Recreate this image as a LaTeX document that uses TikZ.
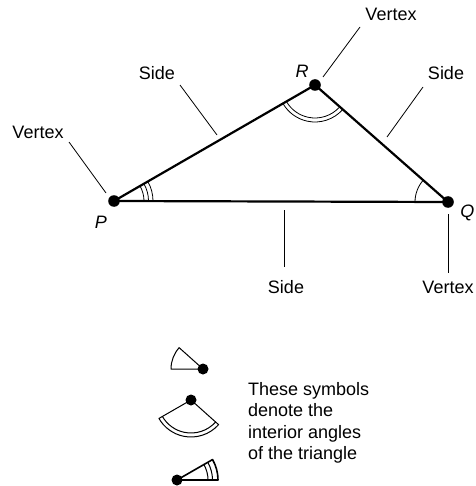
\documentclass[tikz,border=0pt]{standalone}
\usepackage{fontspec}
\setmainfont{Liberation Sans}
\usepackage{tikz}
\usetikzlibrary{calc, positioning}

\tikzset{
    lbl/.style={anchor=base, inner sep=0pt, font=\fontsize{18}{21.5}\selectfont},
    leader/.style={line width=0.8pt},
    sideline/.style={line width=2.2pt, line cap=round},
    anglemark/.style={line width=0.8pt},
    legendmark/.style={line width=1pt, line join=round}
}

\begin{document}
\begin{tikzpicture}[x=1pt, y=-1pt]

    \useasboundingbox (0,0) rectangle (475,486);

    % =================================================================
    % 1. VERTICES OF THE TRIANGLE
    % =================================================================
    \coordinate (P) at (114,201);
    \coordinate (R) at (315,85);
    \coordinate (Q) at (448,202);

    % End points of the leader lines
    \coordinate (vtxRa) at (360,27);
    \coordinate (vtxRb) at (323,77);
    \coordinate (vtxPa) at (69,142);
    \coordinate (vtxPb) at (106,193);
    \coordinate (vtxQa) at (448,214);
    \coordinate (vtxQb) at (448,273);
    \coordinate (sidePRa) at (180,85);
    \coordinate (sidePRb) at (217,135);
    \coordinate (sideRQa) at (423,87);
    \coordinate (sideRQb) at (387,137);
    \coordinate (sidePQa) at (284,210);
    \coordinate (sidePQb) at (284,267);

    % =================================================================
    % 2. SIDES, ANGLE MARKS AND DOTS
    % =================================================================
    \draw[sideline] (P) -- (R) -- (Q) -- cycle;

    % Angle at P (three arcs)
    \foreach \r in {30,34.5,39}
        \draw[anglemark] ($(P)+(-29.9:\r)$) arc (-29.9:0:\r);
    % Angle at R (two arcs)
    \foreach \r in {33,37}
        \draw[anglemark] ($(R)+(41.8:\r)$) arc (41.8:150.1:\r);
    % Angle at Q (one arc)
    \draw[anglemark] ($(Q)+(180:33)$) arc (180:221.8:33);

    \foreach \v in {P,R,Q}
        \fill (\v) circle (5.8);

    % =================================================================
    % 3. LEADER LINES AND LABELS
    % =================================================================
    \draw[leader] (vtxRa) -- (vtxRb);
    \draw[leader] (vtxPa) -- (vtxPb);
    \draw[leader] (vtxQa) -- (vtxQb);
    \draw[leader] (sidePRa) -- (sidePRb);
    \draw[leader] (sideRQa) -- (sideRQb);
    \draw[leader] (sidePQa) -- (sidePQb);

    \node[lbl] (vtxR) at (391,21) {Vertex};
    \node[lbl] (vtxP) at (38,139) {Vertex};
    \node[lbl] (vtxQ) at (448,293) {Vertex};
    \node[lbl] (sidePR) at (157,80) {Side};
    \node[lbl] (sideRQ) at (446,80) {Side};
    \node[lbl] (sidePQ) at (286,293) {Side};

    \node[lbl] (labR) at (302,78) {\textit{R}};
    \node[lbl] (labP) at (101,228) {\textit{P}};
    \node[lbl, anchor=base east] (labQ) at (474.5,217) {\textit{Q}};

    % =================================================================
    % 4. LEGEND OF THE ANGLE SYMBOLS
    % =================================================================
    \coordinate (legQ) at (203,369);
    \coordinate (legR) at (191,400);
    \coordinate (legP) at (177,480);

    % Symbol for the angle at Q
    \draw[legendmark] (legQ) -- ++(180:32) arc (180:221.8:32) -- cycle;
    % Symbol for the angle at R
    \draw[legendmark] (legR) -- ++(41.8:37) arc (41.8:150.1:37) -- cycle;
    \draw[legendmark] ($(legR)+(41.8:33)$) arc (41.8:150.1:33);
    % Symbol for the angle at P
    \draw[legendmark, line width=1.6pt] (legP) -- ++(-29.9:41) arc (-29.9:0:41) -- cycle;
    \foreach \r in {31,35.5}
        \draw[legendmark] ($(legP)+(-29.9:\r)$) arc (-29.9:0:\r);

    \foreach \v in {legQ,legR,legP}
        \fill (\v) circle (5.5);

    \node[lbl, anchor=north west, align=left] (legendtext) at (248,382)
        {These symbols\\denote the\\interior angles\\of the triangle};

\end{tikzpicture}
\end{document}
